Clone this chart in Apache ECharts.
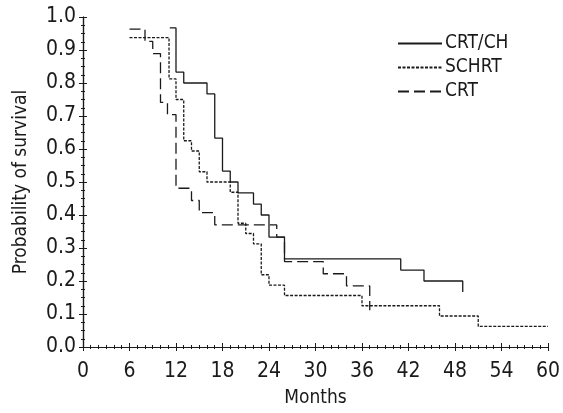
<!DOCTYPE html>
<html>
<head>
<meta charset="utf-8">
<script src="https://cdn.jsdelivr.net/npm/echarts@6/dist/echarts.min.js"></script>
<style>
html, body { margin: 0; padding: 0; background: #fff; }
#main { width: 563px; height: 413px; }
</style>
</head>
<body>
<div id="main"></div>
<script>
var dom = document.getElementById("main");
var myChart = echarts.init(dom);

var FONT = '"Liberation Sans Narrow", "DejaVu Sans Condensed", sans-serif';
var INK = '#1a1a1a';

// Kaplan-Meier steps: time (months) and survival after the step
var crtchTimes = [11.2, 12, 13, 16, 17, 18, 19, 20, 22, 23, 24, 26, 41, 44, 49];
var crtchSurv = [0.967, 0.833, 0.800, 0.767, 0.633, 0.533, 0.500, 0.467, 0.433, 0.400, 0.333, 0.267, 0.233, 0.200, 0.167];

var schrtTimes = [6, 11.1, 12, 13, 14, 15, 16, 19, 20, 21, 22, 23, 24, 26, 36, 46, 51, 60];
var schrtSurv = [0.9375, 0.8125, 0.750, 0.625, 0.594, 0.531, 0.500, 0.469, 0.375, 0.344, 0.3125, 0.219, 0.1875, 0.156, 0.125, 0.094, 0.0625, 0.0625];

var crtTimes = [6, 8, 9, 10, 10.9, 12, 14, 15, 17, 25, 26, 31, 34, 37];
var crtSurv = [0.963, 0.926, 0.889, 0.741, 0.704, 0.481, 0.444, 0.407, 0.370, 0.333, 0.259, 0.222, 0.185, 0.111];

var seriesNames = ['CRT/CH', 'SCHRT', 'CRT'];

function pairs(t, s) {
    return t.map(function (v, i) { return [v, s[i]]; });
}

var frameLine = { show: true, lineStyle: { color: INK, width: 1.2 } };
var frameTick = { show: true, inside: true, length: 4, lineStyle: { color: INK } };

function stepSeries(name, data, dash) {
    return {
        name: name,
        type: 'line',
        step: 'end',
        symbol: 'none',
        data: data,
        lineStyle: { color: INK, width: 1.3, type: dash },
        itemStyle: { color: INK },
        silent: true
    };
}

function xAx(extra) {
    return Object.assign({
        type: 'value', min: 0, max: 60, interval: 6,
        axisLine: frameLine, axisTick: frameTick, splitLine: { show: false },
        minorTick: { show: true, splitNumber: 6, length: 2, lineStyle: { color: INK } }
    }, extra);
}

function yAx(extra) {
    return Object.assign({
        type: 'value', min: 0, max: 1, interval: 0.1,
        axisLine: frameLine, axisTick: frameTick, splitLine: { show: false },
        minorTick: { show: true, splitNumber: 4, length: 2, lineStyle: { color: INK } }
    }, extra);
}

option = {
    backgroundColor: '#fff',
    animation: false,
    grid: { left: 83, right: 12, top: 17, bottom: 60 },
    legend: {
        left: 392,
        top: 29,
        orient: 'vertical',
        itemWidth: 44,
        itemHeight: 14,
        itemGap: 5,
        data: seriesNames,
        itemStyle: { color: 'rgba(0,0,0,0)', borderWidth: 0, opacity: 0 },
        textStyle: { fontFamily: FONT, fontSize: 19, lineHeight: 18, color: INK, padding: [0, 0, 0, -2] }
    },
    xAxis: [
        xAx({
            name: 'Months', nameLocation: 'middle', nameGap: 42,
            nameTextStyle: { fontFamily: FONT, fontSize: 19, color: INK },
            axisLabel: { fontFamily: FONT, fontSize: 21, color: INK, margin: 14 }
        }),
        xAx({ position: 'top', axisLabel: { show: false } })
    ],
    yAxis: [
        yAx({
            name: 'Probability of survival', nameLocation: 'middle', nameGap: 52,
            nameTextStyle: { fontFamily: FONT, fontSize: 19, color: INK },
            axisLabel: {
                fontFamily: FONT, fontSize: 21, color: INK, margin: 7,
                formatter: function (v) { return v.toFixed(1); }
            }
        }),
        yAx({ position: 'right', axisLabel: { show: false } })
    ],
    series: [
        stepSeries(seriesNames[0], pairs(crtchTimes, crtchSurv), 'solid'),
        stepSeries(seriesNames[1], pairs(schrtTimes, schrtSurv), [3, 1.5]),
        stepSeries(seriesNames[2], pairs(crtTimes, crtSurv), [11, 5])
    ]
};

if (option && typeof option === "object") {
    myChart.setOption(option, true);
}
</script>
</body>
</html>
